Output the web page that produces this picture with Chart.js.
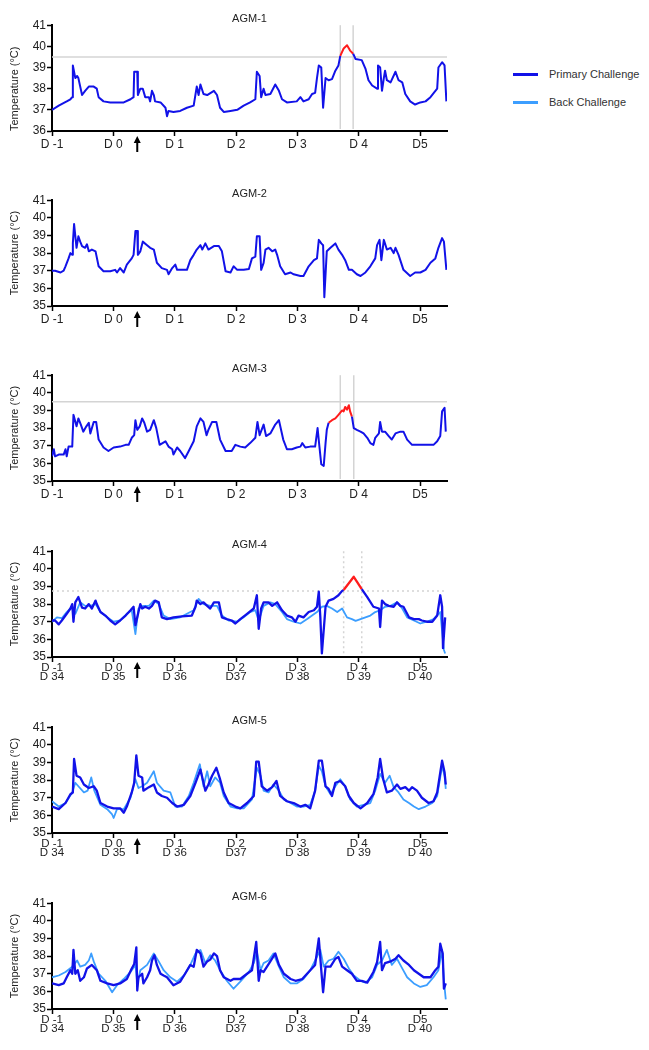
<!DOCTYPE html>
<html>
<head>
<meta charset="utf-8">
<title>AGM temperature</title>
<script src="https://cdn.jsdelivr.net/npm/chart.js@4.4.1/dist/chart.umd.min.js"></script>
<style>
  body { margin: 0; background: #fff; width: 649px; height: 1050px; overflow: hidden; position: relative; font-family: "Liberation Sans", Arial, sans-serif; }
  .panel { position: absolute; left: 0; }
  #legend { position: absolute; left: 513px; top: 60px; font-size: 11px; color: #333; }
  #legend .item { height: 28px; display: flex; align-items: center; }
  #legend .swatch { width: 25px; height: 3px; margin-right: 11px; }
</style>
</head>
<body>
<div id="legend"></div>
<script>
const dayTicks = [-1, 0, 1, 2, 3, 4, 5];
const dayLabels = ['D -1', 'D 0', 'D 1', 'D 2', 'D 3', 'D 4', 'D5'];
const backDayLabels = ['D 34', 'D 35', 'D 36', 'D37', 'D 38', 'D 39', 'D 40'];
const seriesNames = ['Primary Challenge', 'Back Challenge'];
const panelTitles = ['AGM-1', 'AGM-2', 'AGM-3', 'AGM-4', 'AGM-5', 'AGM-6'];
const challengeDay = 0.39;
const yMin = [36, 35, 35, 35, 35, 35];
const yMax = 41;
const feverThreshold = [39.5, null, 39.5, 38.75, null, null];
const feverLines = [[3.70, 3.91], [], [3.70, 3.92], [3.755, 4.05], [], []];
const feverSpan = [[3.70, 3.91], null, [3.51, 3.89], [3.75, 4.06], null, null];

// [day, temperature °C]
const agm1Primary = [[-1.00,37.0],[-0.89,37.2],[-0.76,37.4],[-0.70,37.5],[-0.67,37.6],[-0.66,39.1],[-0.62,38.5],[-0.59,38.6],[-0.57,38.5],[-0.51,37.7],[-0.46,37.9],[-0.40,38.1],[-0.32,38.1],[-0.27,38.0],[-0.24,37.6],[-0.16,37.4],[-0.05,37.35],[0.03,37.35],[0.17,37.35],[0.28,37.5],[0.33,37.6],[0.34,38.8],[0.39,38.8],[0.40,37.7],[0.44,38.0],[0.48,38.0],[0.52,37.6],[0.58,37.6],[0.60,37.4],[0.63,37.9],[0.66,37.7],[0.68,37.4],[0.77,37.35],[0.85,37.1],[0.875,36.7],[0.90,36.95],[0.98,36.9],[1.09,36.95],[1.20,37.1],[1.31,37.2],[1.36,38.1],[1.39,37.7],[1.42,38.2],[1.47,37.75],[1.53,37.7],[1.64,37.9],[1.69,37.7],[1.74,37.1],[1.80,36.9],[1.91,36.95],[2.02,37.0],[2.125,37.2],[2.23,37.35],[2.315,37.5],[2.34,38.8],[2.385,38.6],[2.41,37.6],[2.45,38.0],[2.48,37.7],[2.56,37.75],[2.64,38.2],[2.70,37.9],[2.75,37.5],[2.83,37.35],[2.99,37.4],[3.05,37.6],[3.10,37.4],[3.185,37.5],[3.24,37.75],[3.29,37.8],[3.32,38.5],[3.35,39.1],[3.39,39.0],[3.42,37.1],[3.46,38.5],[3.51,38.4],[3.565,38.45],[3.62,38.85],[3.67,39.1],[3.70,39.55],[3.755,39.9],[3.81,40.05],[3.86,39.8],[3.91,39.65],[3.95,39.4],[4.05,39.35],[4.11,38.95],[4.16,38.4],[4.22,38.15],[4.30,38.0],[4.315,39.1],[4.35,39.0],[4.38,37.9],[4.41,38.5],[4.43,38.85],[4.46,38.4],[4.52,38.3],[4.60,38.8],[4.65,38.4],[4.71,38.3],[4.76,37.75],[4.84,37.4],[4.92,37.25],[5.005,37.35],[5.09,37.4],[5.17,37.6],[5.28,38.0],[5.30,39.0],[5.36,39.25],[5.40,39.1],[5.43,37.4]];

const agm2Primary = [[-1.00,37.0],[-0.95,37.0],[-0.86,36.9],[-0.81,37.0],[-0.78,37.25],[-0.73,37.7],[-0.70,38.0],[-0.67,37.9],[-0.66,38.55],[-0.64,39.65],[-0.60,38.3],[-0.57,38.95],[-0.54,38.65],[-0.51,38.4],[-0.46,38.3],[-0.43,38.5],[-0.40,38.1],[-0.35,38.2],[-0.29,38.1],[-0.24,37.25],[-0.16,36.97],[-0.05,36.97],[0.03,37.05],[0.06,36.9],[0.11,37.15],[0.17,36.9],[0.22,37.35],[0.30,37.7],[0.33,37.9],[0.36,39.25],[0.39,39.25],[0.40,37.9],[0.44,38.1],[0.48,38.65],[0.55,38.45],[0.60,38.3],[0.66,38.2],[0.71,37.45],[0.79,37.15],[0.875,37.05],[0.90,36.8],[0.96,37.15],[1.01,37.35],[1.04,37.05],[1.12,37.05],[1.20,37.05],[1.255,37.6],[1.31,37.9],[1.36,38.2],[1.42,38.45],[1.45,38.2],[1.50,38.55],[1.55,38.2],[1.64,38.4],[1.72,38.4],[1.77,38.1],[1.83,36.97],[1.91,36.9],[1.96,37.25],[2.02,37.05],[2.125,37.05],[2.21,37.1],[2.26,37.7],[2.315,37.8],[2.34,38.95],[2.385,38.95],[2.41,37.05],[2.45,37.45],[2.48,38.2],[2.53,38.3],[2.59,38.1],[2.64,38.2],[2.67,37.9],[2.72,37.25],[2.80,36.8],[2.89,36.9],[2.94,36.8],[3.05,36.7],[3.10,36.7],[3.185,37.25],[3.27,37.6],[3.32,37.7],[3.35,38.75],[3.39,38.55],[3.42,38.45],[3.44,35.5],[3.48,38.1],[3.54,38.3],[3.62,38.55],[3.67,38.2],[3.73,37.9],[3.78,37.6],[3.84,37.05],[3.89,37.05],[3.97,36.8],[4.03,36.7],[4.11,36.9],[4.19,37.25],[4.27,37.7],[4.30,38.45],[4.34,38.75],[4.37,37.6],[4.41,38.75],[4.46,38.2],[4.52,38.3],[4.57,38.0],[4.60,38.3],[4.65,37.9],[4.73,37.05],[4.84,36.7],[4.92,36.9],[5.005,36.9],[5.09,37.05],[5.17,37.45],[5.25,37.7],[5.30,38.3],[5.36,38.85],[5.39,38.65],[5.43,37.05]];

const agm3Primary = [[-1.00,36.4],[-0.97,36.8],[-0.95,36.4],[-0.89,36.5],[-0.81,36.5],[-0.78,36.8],[-0.76,36.4],[-0.73,36.95],[-0.67,36.95],[-0.65,38.75],[-0.60,38.1],[-0.57,38.55],[-0.53,38.2],[-0.49,37.8],[-0.44,38.1],[-0.40,38.3],[-0.375,37.7],[-0.32,38.35],[-0.28,38.35],[-0.24,37.35],[-0.16,36.9],[-0.08,36.7],[0.005,36.9],[0.11,36.95],[0.20,37.05],[0.25,37.05],[0.30,37.45],[0.34,37.6],[0.36,38.45],[0.39,37.9],[0.43,38.1],[0.47,38.55],[0.505,38.3],[0.55,37.8],[0.60,37.9],[0.66,38.45],[0.70,38.0],[0.755,37.05],[0.85,37.25],[0.90,36.95],[0.96,36.8],[0.98,36.5],[1.04,36.9],[1.09,36.7],[1.17,36.3],[1.23,36.7],[1.31,37.25],[1.36,38.1],[1.42,38.55],[1.47,38.35],[1.52,37.6],[1.55,37.9],[1.61,38.35],[1.68,38.35],[1.74,37.35],[1.83,36.7],[1.93,36.7],[1.99,37.05],[2.07,36.95],[2.15,36.9],[2.23,37.15],[2.315,37.45],[2.35,38.35],[2.385,37.6],[2.45,38.2],[2.49,37.55],[2.56,37.7],[2.64,38.2],[2.70,38.45],[2.77,37.35],[2.83,36.8],[2.91,36.8],[2.99,36.9],[3.05,36.95],[3.08,37.15],[3.13,36.9],[3.21,36.95],[3.29,36.95],[3.33,38.0],[3.36,36.95],[3.39,35.95],[3.43,35.85],[3.46,37.15],[3.48,37.9],[3.51,38.3],[3.565,38.45],[3.62,38.55],[3.67,38.75],[3.73,39.0],[3.755,38.95],[3.78,39.2],[3.81,39.05],[3.84,39.3],[3.86,38.95],[3.89,38.65],[3.92,38.0],[3.97,37.9],[4.03,37.8],[4.08,37.7],[4.14,37.45],[4.19,37.15],[4.24,37.05],[4.27,37.45],[4.33,37.7],[4.35,38.35],[4.38,37.8],[4.43,37.8],[4.49,37.55],[4.54,37.35],[4.60,37.7],[4.68,37.8],[4.73,37.8],[4.79,37.35],[4.87,37.05],[5.005,37.05],[5.11,37.05],[5.22,37.05],[5.28,37.25],[5.33,37.55],[5.36,38.95],[5.40,39.15],[5.42,37.8]];

const agm4Primary = [[-1.00,37.07],[-0.95,37.07],[-0.89,36.85],[-0.84,37.07],[-0.76,37.45],[-0.70,37.75],[-0.67,38.0],[-0.65,37.0],[-0.62,38.1],[-0.57,38.4],[-0.51,37.8],[-0.46,37.75],[-0.40,38.0],[-0.35,37.75],[-0.29,38.2],[-0.27,38.0],[-0.21,37.55],[-0.13,37.35],[-0.05,37.07],[0.03,36.85],[0.11,37.07],[0.20,37.35],[0.28,37.65],[0.33,37.85],[0.36,36.8],[0.39,37.25],[0.44,38.0],[0.47,37.75],[0.52,37.85],[0.58,37.75],[0.63,37.9],[0.68,38.2],[0.74,38.1],[0.79,37.25],[0.875,37.15],[0.98,37.25],[1.12,37.3],[1.28,37.35],[1.34,37.85],[1.36,38.2],[1.42,38.0],[1.47,38.1],[1.53,37.9],[1.58,37.75],[1.64,38.1],[1.72,38.1],[1.77,37.25],[1.85,37.15],[1.93,37.07],[1.99,36.9],[2.07,37.15],[2.18,37.45],[2.29,37.75],[2.34,38.5],[2.37,36.6],[2.41,37.75],[2.45,38.1],[2.53,38.1],[2.59,37.9],[2.67,38.1],[2.75,37.65],[2.83,37.35],[2.91,37.25],[2.97,37.0],[3.02,37.35],[3.10,37.25],[3.185,37.55],[3.27,37.65],[3.32,37.85],[3.35,38.7],[3.375,37.25],[3.40,35.2],[3.46,37.85],[3.51,38.2],[3.59,38.3],[3.67,38.5],[3.73,38.75],[3.755,38.8],[3.92,39.55],[4.05,38.85],[4.14,38.4],[4.24,37.85],[4.33,37.75],[4.35,36.7],[4.38,38.2],[4.43,38.0],[4.49,37.9],[4.57,37.85],[4.625,38.1],[4.68,37.9],[4.73,37.85],[4.82,37.25],[4.90,37.15],[4.98,37.15],[5.03,37.07],[5.11,37.0],[5.20,37.0],[5.28,37.35],[5.33,38.5],[5.36,37.85],[5.375,35.5],[5.41,37.25]];
const agm4Back = [[-1.00,37.0],[-0.92,37.25],[-0.84,37.2],[-0.76,37.55],[-0.67,37.85],[-0.62,37.45],[-0.54,38.1],[-0.46,37.9],[-0.375,37.9],[-0.29,38.0],[-0.21,37.55],[-0.10,37.25],[0.005,37.0],[0.11,37.07],[0.22,37.45],[0.30,37.65],[0.36,36.3],[0.41,37.75],[0.49,37.9],[0.58,37.9],[0.66,38.2],[0.74,38.0],[0.82,37.35],[0.93,37.15],[1.09,37.25],[1.20,37.45],[1.31,37.65],[1.39,38.3],[1.47,38.0],[1.58,37.9],[1.69,37.9],[1.77,37.35],[1.88,37.07],[2.02,37.0],[2.125,37.25],[2.23,37.55],[2.315,37.65],[2.37,37.07],[2.45,37.9],[2.56,38.1],[2.64,38.0],[2.75,37.55],[2.83,37.15],[2.94,37.0],[3.05,36.9],[3.16,37.15],[3.24,37.35],[3.32,37.55],[3.40,37.85],[3.48,37.9],[3.565,37.75],[3.65,37.55],[3.73,37.75],[3.81,37.25],[3.89,37.15],[3.95,37.05],[4.03,37.15],[4.11,37.25],[4.19,37.35],[4.27,37.55],[4.35,37.65],[4.43,37.85],[4.52,37.9],[4.625,38.1],[4.71,37.75],[4.79,37.25],[4.90,37.07],[5.005,36.9],[5.11,37.0],[5.22,37.15],[5.33,37.55],[5.39,35.4],[5.41,35.2]];

const agm5Primary = [[-1.00,36.5],[-0.89,36.35],[-0.78,36.7],[-0.70,37.2],[-0.66,37.3],[-0.64,39.2],[-0.60,38.25],[-0.54,38.15],[-0.48,37.75],[-0.40,37.55],[-0.32,37.65],[-0.27,37.4],[-0.21,36.7],[-0.10,36.5],[0.005,36.4],[0.11,36.4],[0.17,36.15],[0.22,36.5],[0.30,37.3],[0.34,37.85],[0.375,39.4],[0.41,38.25],[0.47,38.15],[0.49,37.4],[0.58,37.6],[0.66,37.75],[0.71,37.3],[0.79,37.1],[0.875,37.0],[0.96,36.7],[1.04,36.5],[1.15,36.6],[1.255,37.1],[1.34,37.85],[1.42,38.6],[1.50,37.4],[1.55,37.75],[1.61,38.25],[1.68,38.7],[1.74,38.05],[1.80,37.3],[1.88,36.7],[1.99,36.5],[2.07,36.4],[2.18,36.7],[2.29,37.1],[2.33,39.05],[2.37,39.05],[2.42,37.65],[2.505,37.4],[2.59,37.6],[2.66,37.95],[2.72,37.1],[2.83,36.8],[2.94,36.7],[3.05,36.5],[3.13,36.6],[3.21,36.4],[3.29,37.4],[3.35,39.1],[3.40,39.1],[3.46,37.65],[3.51,37.5],[3.565,37.1],[3.62,37.85],[3.70,37.95],[3.78,37.65],[3.84,37.1],[3.92,36.7],[4.03,36.4],[4.14,36.7],[4.24,37.2],[4.31,38.15],[4.35,39.2],[4.40,38.05],[4.46,37.3],[4.54,37.4],[4.625,37.75],[4.68,37.5],[4.76,37.6],[4.82,37.4],[4.87,37.6],[4.95,37.4],[5.03,37.0],[5.14,36.7],[5.22,36.8],[5.28,37.3],[5.36,39.1],[5.40,38.45],[5.42,37.75]];
const agm5Back = [[-1.00,36.8],[-0.89,36.5],[-0.78,36.7],[-0.67,37.3],[-0.62,37.85],[-0.57,37.65],[-0.48,37.3],[-0.42,37.4],[-0.36,38.15],[-0.31,37.4],[-0.21,36.6],[-0.10,36.35],[-0.02,36.05],[0.005,35.85],[0.06,36.35],[0.17,36.35],[0.28,37.0],[0.36,38.05],[0.41,37.55],[0.47,37.65],[0.55,37.85],[0.66,38.5],[0.71,37.85],[0.82,37.4],[0.93,37.3],[1.01,36.5],[1.12,36.5],[1.23,37.1],[1.31,37.85],[1.41,38.9],[1.47,37.65],[1.53,38.5],[1.58,37.65],[1.66,38.15],[1.74,37.85],[1.80,37.1],[1.91,36.5],[2.02,36.4],[2.125,36.4],[2.26,36.9],[2.34,38.7],[2.40,38.25],[2.45,37.4],[2.53,37.3],[2.61,37.75],[2.70,37.4],[2.78,36.9],[2.89,36.7],[2.99,36.5],[3.10,36.5],[3.21,36.6],[3.29,37.4],[3.35,38.8],[3.40,38.5],[3.46,37.65],[3.54,37.2],[3.62,37.65],[3.70,38.05],[3.78,37.65],[3.86,36.9],[3.97,36.5],[4.08,36.6],[4.19,36.7],[4.27,37.4],[4.35,38.35],[4.43,37.85],[4.505,38.25],[4.57,37.6],[4.65,37.3],[4.73,36.9],[4.82,36.7],[4.90,36.5],[4.98,36.35],[5.09,36.5],[5.20,36.7],[5.28,37.1],[5.36,38.8],[5.40,38.25],[5.42,37.5]];

const agm6Primary = [[-1.00,36.45],[-0.89,36.35],[-0.81,36.45],[-0.76,36.8],[-0.70,37.2],[-0.67,37.0],[-0.65,38.35],[-0.62,37.0],[-0.58,37.2],[-0.54,36.6],[-0.48,36.8],[-0.43,37.3],[-0.35,37.5],[-0.27,37.2],[-0.21,36.6],[-0.10,36.45],[0.005,36.35],[0.11,36.45],[0.22,36.7],[0.30,37.3],[0.34,37.55],[0.375,38.5],[0.39,36.05],[0.41,36.8],[0.47,37.0],[0.49,36.45],[0.55,36.8],[0.60,37.2],[0.63,37.75],[0.67,38.05],[0.71,37.5],[0.77,37.0],[0.82,36.9],[0.875,36.8],[0.98,36.35],[1.09,36.55],[1.17,37.0],[1.255,37.5],[1.31,37.4],[1.36,38.35],[1.42,38.15],[1.47,37.4],[1.53,37.7],[1.58,37.8],[1.64,38.15],[1.69,38.0],[1.74,37.2],[1.80,36.8],[1.91,36.6],[1.96,36.7],[2.07,36.7],[2.18,37.0],[2.26,37.2],[2.33,38.8],[2.37,36.6],[2.40,37.2],[2.45,37.1],[2.505,37.4],[2.56,37.7],[2.64,38.15],[2.70,37.5],[2.78,37.0],[2.89,36.7],[2.97,36.6],[3.08,36.7],[3.185,37.1],[3.29,37.5],[3.35,39.0],[3.39,37.2],[3.42,35.95],[3.46,37.4],[3.54,37.4],[3.62,37.85],[3.67,37.95],[3.73,37.4],[3.81,37.2],[3.89,37.0],[3.97,36.6],[4.05,36.6],[4.14,36.5],[4.24,37.1],[4.30,37.65],[4.35,38.8],[4.38,37.2],[4.43,37.6],[4.52,37.7],[4.60,37.85],[4.65,38.05],[4.73,37.75],[4.82,37.5],[4.90,37.2],[4.98,37.0],[5.06,36.8],[5.17,36.8],[5.25,37.2],[5.30,37.4],[5.33,38.7],[5.37,38.15],[5.39,36.15],[5.42,36.45]];
const agm6Back = [[-1.00,36.8],[-0.89,36.9],[-0.78,37.1],[-0.67,37.4],[-0.59,37.75],[-0.54,37.4],[-0.46,37.5],[-0.40,37.75],[-0.36,38.15],[-0.32,37.7],[-0.24,37.0],[-0.13,36.6],[-0.02,35.95],[0.06,36.35],[0.17,36.7],[0.28,37.1],[0.36,37.5],[0.39,36.45],[0.44,37.2],[0.55,37.5],[0.66,38.15],[0.74,37.7],[0.82,37.2],[0.93,36.8],[1.04,36.55],[1.15,36.9],[1.255,37.5],[1.34,38.15],[1.42,38.35],[1.50,37.6],[1.58,38.05],[1.66,37.75],[1.74,37.2],[1.85,36.6],[1.96,36.15],[2.07,36.55],[2.21,37.1],[2.29,37.6],[2.34,38.25],[2.40,37.2],[2.45,37.6],[2.53,37.75],[2.61,38.15],[2.70,37.4],[2.78,36.8],[2.89,36.45],[2.99,36.45],[3.10,36.7],[3.21,37.2],[3.29,37.75],[3.375,38.35],[3.43,37.4],[3.51,37.75],[3.59,37.85],[3.67,38.25],[3.755,37.85],[3.84,37.3],[3.92,36.9],[4.03,36.6],[4.11,36.5],[4.22,36.8],[4.30,37.5],[4.38,37.75],[4.46,38.35],[4.54,37.5],[4.625,37.85],[4.71,37.3],[4.79,36.8],[4.90,36.45],[5.005,36.25],[5.11,36.35],[5.22,36.8],[5.30,37.2],[5.36,38.35],[5.39,36.6],[5.42,35.55]];

const primaryData = [agm1Primary, agm2Primary, agm3Primary, agm4Primary, agm5Primary, agm6Primary];
const backData = [null, null, null, agm4Back, agm5Back, agm6Back];

const blue = '#1212e8';
const lightBlue = '#3c9eff';
const feverRed = '#ff1c1c';
const fontFamily = '"Liberation Sans", Arial, sans-serif';
const canvasTops = [0, 175, 350, 526, 702, 878];
const refStyles = [[], [], [], [2, 3], [], []];

//Legend
const legend = document.getElementById('legend');
[blue, lightBlue].forEach((c, i) => {
  const item = document.createElement('div');
  item.className = 'item';
  item.innerHTML = `<span class="swatch" style="background:${c}"></span><span>${seriesNames[i]}</span>`;
  legend.appendChild(item);
});

// fever window lines + challenge arrow
const refLines = {
  id: 'refLines',
  beforeDatasetsDraw(chart, args, o) {
    const {ctx, chartArea: a, scales: {x, y}} = chart;
    ctx.save();
    ctx.strokeStyle = '#d4d4d4';
    ctx.lineWidth = 1.5;
    ctx.setLineDash(o.dash);
    if (o.threshold != null) {
      const py = y.getPixelForValue(o.threshold);
      ctx.beginPath(); ctx.moveTo(a.left, py); ctx.lineTo(a.right, py); ctx.stroke();
    }
    o.lines.forEach(d => {
      const px = x.getPixelForValue(d);
      ctx.beginPath(); ctx.moveTo(px, a.top); ctx.lineTo(px, a.bottom - 2); ctx.stroke();
    });
    ctx.restore();
  },
  afterDraw(chart) {
    const {ctx, chartArea: a, scales: {x}} = chart;
    const px = x.getPixelForValue(challengeDay);
    const top = a.bottom + 5;
    ctx.save();
    ctx.strokeStyle = '#000';
    ctx.fillStyle = '#000';
    ctx.lineWidth = 2;
    ctx.beginPath(); ctx.moveTo(px, top + 5); ctx.lineTo(px, top + 16); ctx.stroke();
    ctx.beginPath(); ctx.moveTo(px, top); ctx.lineTo(px - 3.5, top + 7); ctx.lineTo(px + 3.5, top + 7); ctx.closePath(); ctx.fill();
    ctx.restore();
  }
};

panelTitles.forEach((title, i) => {
  const wrap = document.createElement('div');
  wrap.className = 'panel';
  wrap.style.top = canvasTops[i] + 'px';
  const canvas = document.createElement('canvas');
  canvas.width = 460;
  canvas.height = 175;
  wrap.appendChild(canvas);
  document.body.appendChild(wrap);

  const span = feverSpan[i];
  const twoLine = backData[i] !== null;
  const datasets = [{
    label: seriesNames[0],
    data: primaryData[i],
    borderColor: blue,
    borderWidth: twoLine ? 2.3 : 2,
    segment: {
      borderColor: c => span && c.p0.parsed.x >= span[0] - 1e-6 && c.p1.parsed.x <= span[1] + 1e-6 ? feverRed : undefined
    }
  }];
  if (twoLine) {
    datasets.push({label: seriesNames[1], data: backData[i], borderColor: lightBlue, borderWidth: 1.8});
  }

  new Chart(canvas, {
    type: 'line',
    data: {datasets},
    options: {
      responsive: false,
      animation: false,
      layout: {padding: {left: 0, right: 13, top: 0, bottom: 0}},
      elements: {point: {radius: 0}, line: {tension: 0, borderJoinStyle: 'round'}},
      plugins: {
        legend: {display: false},
        tooltip: {enabled: false},
        title: {
          display: true, text: title, fullSize: false, color: '#222',
          font: {family: fontFamily, size: 11, weight: 'normal'},
          padding: {top: 12, bottom: 0}
        },
        refLines: {threshold: feverThreshold[i], lines: feverLines[i], dash: refStyles[i]}
      },
      scales: {
        x: {
          type: 'linear', min: -1, max: 5.44,
          afterBuildTicks: s => { s.ticks = dayTicks.map(v => ({value: v})); },
          afterFit: s => { s.height = 44; },
          grid: {drawOnChartArea: false, drawTicks: true, tickLength: 5, tickWidth: 1.5, tickColor: '#000'},
          border: {color: '#000', width: 2},
          ticks: {
            autoSkip: false, maxRotation: 0, padding: 1, color: '#222',
            font: {family: fontFamily, size: twoLine ? 11.5 : 12, lineHeight: twoLine ? 0.8 : 1.2},
            callback: (v, idx) => twoLine ? [dayLabels[idx], backDayLabels[idx]] : dayLabels[idx]
          }
        },
        y: {
          min: yMin[i], max: yMax,
          afterFit: s => { s.width = 52; },
          grid: {drawOnChartArea: false, drawTicks: true, tickLength: 5, tickWidth: 1.5, tickColor: '#000'},
          border: {color: '#000', width: 2},
          ticks: {stepSize: 1, padding: 1, color: '#222', font: {family: fontFamily, size: 12}},
          title: {
            display: true, text: 'Temperature (°C)', color: '#222',
            align: i === 0 ? 'start' : 'center',
            font: {family: fontFamily, size: 11},
            padding: {top: 8, bottom: 0}
          }
        }
      }
    },
    plugins: [refLines]
  });
});
</script>
</body>
</html>
